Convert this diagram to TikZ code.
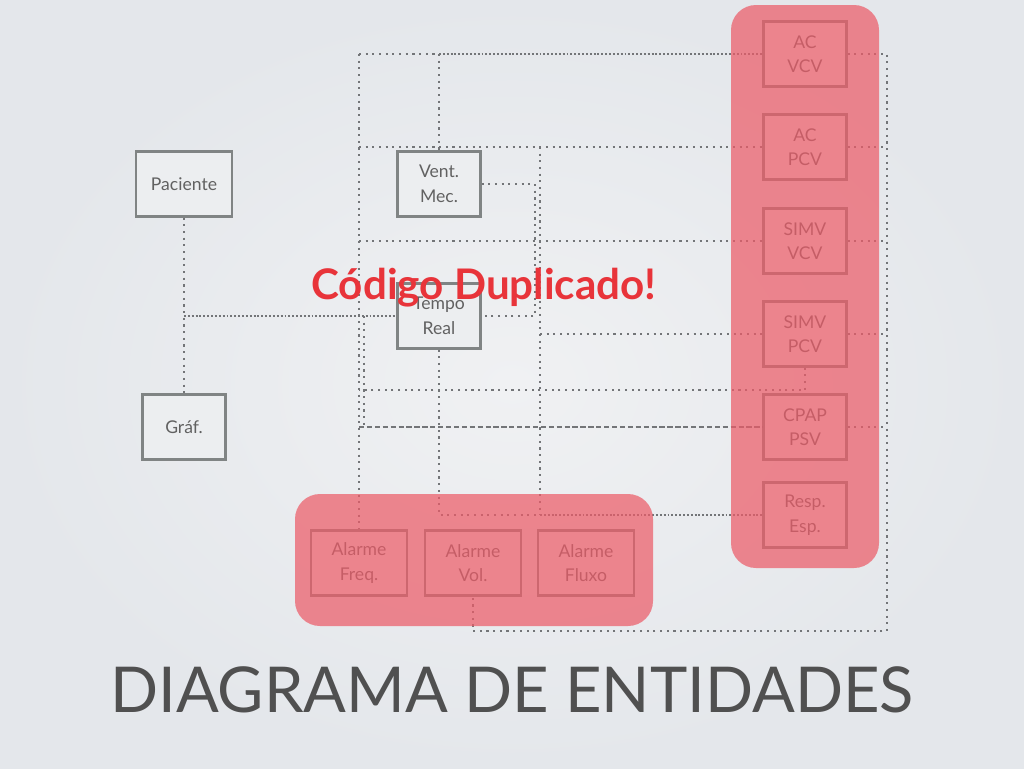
\documentclass[tikz,border=0pt]{standalone}
\usepackage{fontspec}
\setmainfont{Lato}
\usetikzlibrary{shadows}
\definecolor{bgin}{RGB}{240,241,243}
\definecolor{bgout}{RGB}{228,231,235}
\definecolor{boxgrey}{RGB}{128,132,132}
\definecolor{boxfill}{RGB}{236,238,240}
\definecolor{linegrey}{RGB}{115,117,120}
\definecolor{groupred}{RGB}{236,92,104}
\definecolor{alertred}{RGB}{232,52,58}
\definecolor{titlegrey}{RGB}{80,80,80}
\tikzset{
  entity/.style={draw=boxgrey, line width=1.3pt, fill=boxfill, align=center,
    minimum width=1.66cm, minimum height=1.3cm, inner sep=0pt,
    font=\fontsize{10}{14}\selectfont, text=titlegrey!90,
    drop shadow={opacity=0.15, shadow xshift=0.5pt, shadow yshift=-1pt}},
  wide/.style={minimum width=1.93cm},
  link/.style={draw=linegrey, line width=1.3pt, dash pattern=on 1.2pt off 2.6pt},
  fine/.style={draw=linegrey, line width=1.2pt, dash pattern=on 1.1pt off 1.1pt},
  group/.style={fill=groupred, fill opacity=0.72, rounded corners=0.5cm}
}
\begin{document}
\begin{tikzpicture}[x=0.02cm,y=-0.02cm]
  \useasboundingbox (0,0) rectangle (1024,768);
  \shade[inner color=bgin, outer color=bgout] (0,0) rectangle (1024,768);

  % left side
  \node[entity, wide] (pac) at (184,184) {Paciente};
  \node[entity] (graf) at (184,427) {Gráf.};
  \node[entity] (vent) at (439,184) {Vent.\\Mec.};
  \node[entity] (tempo) at (439,316) {Tempo\\Real};

  % modos
  \node[entity] (acvcv) at (805,54) {AC\\VCV};
  \node[entity] (acpcv) at (805,147) {AC\\PCV};
  \node[entity] (simvvcv) at (805,241) {SIMV\\VCV};
  \node[entity] (simvpcv) at (805,334) {SIMV\\PCV};
  \node[entity] (cpap) at (805,427) {CPAP\\PSV};
  \node[entity] (resp) at (805,515) {Resp.\\Esp.};

  % alarmes
  \node[entity, wide] (freq) at (359,563) {Alarme\\Freq.};
  \node[entity, wide] (vol) at (473,563) {Alarme\\Vol.};
  \node[entity, wide] (fluxo) at (586,563) {Alarme\\Fluxo};

  % junctions
  \coordinate (topl) at (359,54);
  \coordinate (topv) at (439,54);
  \coordinate (pcvl) at (359,147);
  \coordinate (pcvm) at (540,147);
  \coordinate (resm) at (540,515);
  \coordinate (resv) at (439,515);
  \coordinate (vcvl) at (359,241);
  \coordinate (spcvm) at (540,334);
  \coordinate (spcvd) at (805,390);
  \coordinate (spcvl) at (359,390);
  \coordinate (cpapl) at (359,427);
  \coordinate (pacm) at (184,316);
  \coordinate (ventr) at (535,184);
  \coordinate (tempor) at (535,316);
  \coordinate (dbla) at (364,316);
  \coordinate (dblb) at (364,427);
  \coordinate (rtop) at (887,54);
  \coordinate (rbot) at (887,631);
  \coordinate (vbot) at (473,631);

  \draw[link] (pac) -- (graf);
  \draw[fine] (pacm) -- (tempo.west);
  \draw[link] (topl) -- (topv);
  \draw[fine] (topv) -- (acvcv.west);
  \draw[link] (topl) -- (freq.north);
  \draw[link] (topv) -- (vent.north);
  \draw[link] (acvcv.east) -- (rtop) -- (rbot) -- (vbot) -- (vol.south);
  \draw[link] (pcvl) -- (acpcv.west);
  \draw[link] (acpcv.east) -- (acpcv.east -| rtop);
  \draw[link] (pcvm) -- (resm);
  \draw[link] (vent.east) -- (ventr) -- (tempor) -- (tempo.east);
  \draw[link] (vcvl) -- (simvvcv.west);
  \draw[link] (simvvcv.east) -- (simvvcv.east -| rtop);
  \draw[link] (spcvm) -- (simvpcv.west);
  \draw[link] (simvpcv.east) -- (simvpcv.east -| rtop);
  \draw[link] (simvpcv.south) -- (spcvd) -- (spcvl);
  \draw[fine, dash pattern=on 3pt off 1.5pt] (cpapl) -- (cpap.west);
  \draw[link] (cpap.east) -- (cpap.east -| rtop);
  \draw[link] (tempo.south) -- (resv) -- (resm);
  \draw[fine] (resm) -- (resp.west);
  \draw[link] (dbla) -- (dblb);

  % groups
  \fill[group] (731,5) rectangle (879,568);
  \fill[group] (295,494) rectangle (653,626);

  \node[text=alertred, font=\fontsize{24}{28}\selectfont\bfseries] (dup) at (484,288) {Código Duplicado!};
  \node[text=titlegrey, font=\fontsize{36}{42}\selectfont] (title) at (512,690) {DIAGRAMA DE ENTIDADES};
\end{tikzpicture}
\end{document}
